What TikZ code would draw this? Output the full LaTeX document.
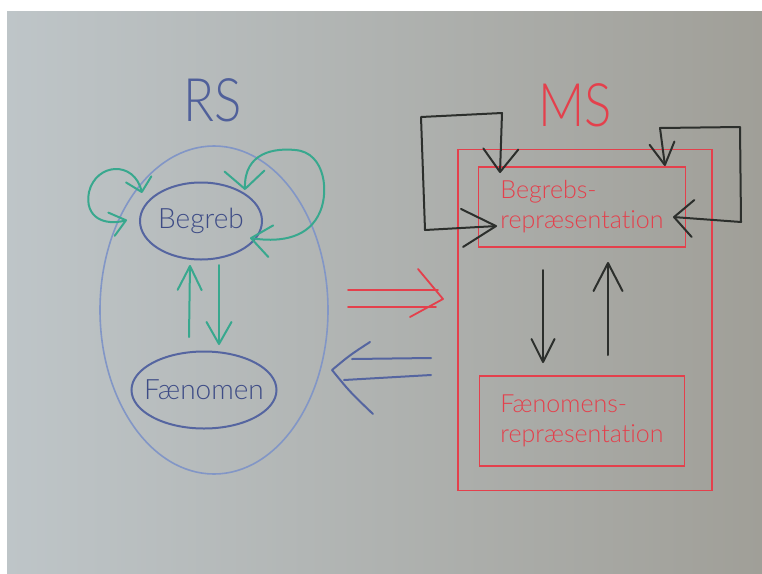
\documentclass[tikz,border=0pt]{standalone}
\usepackage{fontspec}
\setmainfont{Lato Light}[Ligatures=NoCommon]
\usetikzlibrary{arrows.meta,shapes.geometric}

% marker colours on the whiteboard
\definecolor{boardL}{HTML}{BEC5C8}
\definecolor{boardM}{HTML}{ADB1AE}
\definecolor{boardR}{HTML}{A09F98}
\definecolor{rsblue}{HTML}{50609A}
\definecolor{ringblue}{HTML}{8296C6}
\definecolor{inkblue}{HTML}{5565A0}
\definecolor{textblue}{HTML}{3E4C86}
\definecolor{teal}{HTML}{38A88E}
\definecolor{mred}{HTML}{E4404C}
\definecolor{mblack}{HTML}{2C2F2C}

\begin{document}
\begin{tikzpicture}[x=1pt,y=-1pt,
  pen/.style={line cap=round,line join=round},
  greenpen/.style={pen,draw=teal,line width=2pt},
  blackpen/.style={pen,draw=mblack,line width=2pt},
  redpen/.style={pen,draw=mred,line width=1.8pt},
  bluepen/.style={pen,draw=inkblue,line width=2pt},
  big/.style={font=\fontsize{60}{62}\selectfont},
  label/.style={font=\fontsize{25}{30}\selectfont},
  redbox/.style={rectangle,draw=mred,line width=1.6pt,text=mred,label,align=left,inner sep=2pt},
  blueoval/.style={ellipse,draw=inkblue,line width=2pt,inner sep=0pt},
  bluetext/.style={text=textblue,font=\fontsize{28}{30}\selectfont,inner sep=0pt},
]
\useasboundingbox (0,0) rectangle (762,573);
\fill[white] (0,0) rectangle (762,573);
\shade[left color=boardL,middle color=boardM,right color=boardR] (7,11) rectangle (762,573);

% ---------- RS: the real system ----------
\node[big,text=rsblue] (rs) at (213,100) {\scalebox{0.85}[1]{RS}};
\node[ellipse,draw=ringblue,line width=1.6pt,minimum width=228pt,minimum height=328pt] (rsring) at (214,310) {};
\node[blueoval,minimum width=122pt,minimum height=77pt] (begreb) at (201,221) {};
\node[bluetext] (begrebtext) at (begreb) {Begreb};
\node[blueoval,minimum width=145pt,minimum height=77pt] (fanomen) at (204,390) {};
\node[bluetext] (fanomentext) at (fanomen) {Fænomen};

% self loops on Begreb
\coordinate (gl1) at (142,193);
\coordinate (gl2) at (127,220);
\draw[greenpen,{Straight Barb[length=13pt,width=26pt,round]}-{Straight Barb[length=15pt,width=24pt,round]}]
  (gl1) .. controls (134,160) and (96,163) .. (89,192)
        .. controls (84,218) and (105,226) .. (gl2);
\coordinate (gr1) at (245,190);
\coordinate (gr2) at (250,238);
\draw[greenpen,{Straight Barb[length=18pt,width=40pt,round]}-{Straight Barb[length=20pt,width=32pt,round]}]
  (gr1) .. controls (244,152) and (275,148) .. (295,150)
        .. controls (326,152) and (330,195) .. (318,216)
        .. controls (305,240) and (276,242) .. (gr2);

% Begreb <-> Fænomen
\coordinate (gu1) at (189,337);
\coordinate (gu2) at (190,265);
\coordinate (gd1) at (219,265);
\coordinate (gd2) at (219,345);
\draw[greenpen,-{Straight Barb[length=24pt,width=24pt,round]}] (gu1) -- (gu2);
\draw[greenpen,-{Straight Barb[length=22pt,width=25pt,round]}] (gd1) -- (gd2);

% ---------- MS: the model system ----------
\node[big,text=mred] (ms) at (575,105) {\scalebox{0.85}[1]{MS}};
\node[rectangle,draw=mred,line width=1.6pt,minimum width=254pt,minimum height=341pt] (msbox) at (585,320) {};
\node[redbox,minimum width=207pt,minimum height=80pt] (brep) at (582,207) {Begrebs-\\repræsentation};
\node[redbox,minimum width=205pt,minimum height=90pt] (frep) at (582,421) {Fænomens-\\repræsentation};

% self loops on the concept representation
\coordinate (bl1) at (500,173);
\coordinate (bl2) at (497,226);
\draw[blackpen,{Straight Barb[length=23pt,width=35pt,round]}-{Straight Barb[length=34pt,width=38pt,round]}]
  (bl1) -- (502,113) -- (421,117) -- (425,230) -- (bl2);
\coordinate (br1) at (665,166);
\coordinate (br2) at (673,217);
\draw[blackpen,{Straight Barb[length=22pt,width=25pt,round]}-{Straight Barb[length=19pt,width=37pt,round]}]
  (br1) -- (660,128) -- (740,127) -- (741,222) -- (br2);

% representation <-> representation
\coordinate (kd1) at (543,270);
\coordinate (kd2) at (543,363);
\coordinate (ku1) at (608,355);
\coordinate (ku2) at (608,262);
\draw[blackpen,-{Straight Barb[length=23pt,width=23pt,round]}] (kd1) -- (kd2);
\draw[blackpen,-{Straight Barb[length=28pt,width=29pt,round]}] (ku1) -- (ku2);

% ---------- mapping between the two systems ----------
\coordinate (ra1) at (348,290);
\coordinate (ra2) at (348,307);
\coordinate (rtip) at (443,299);
\draw[redpen] (ra1) -- (438,290);
\draw[redpen] (ra2) -- (436,307);
\draw[redpen] (418,269) -- (rtip) -- (410,317);

\coordinate (ba1) at (431,358);
\coordinate (ba2) at (431,375);
\coordinate (btip) at (332,370);
\draw[bluepen] (ba1) -- (352,359);
\draw[bluepen] (ba2) -- (344,380);
\draw[bluepen] (370,342) .. controls (350,355) .. (btip) .. controls (350,392) .. (373,414);
\end{tikzpicture}
\end{document}
